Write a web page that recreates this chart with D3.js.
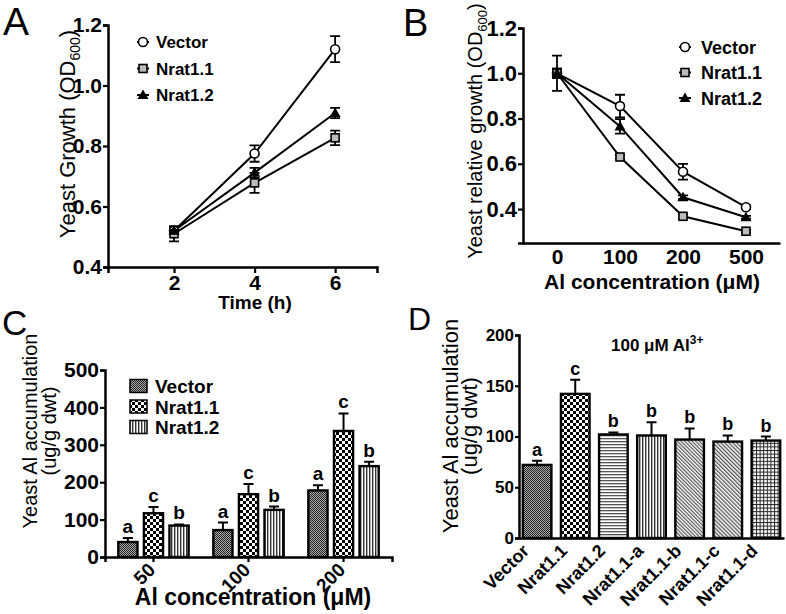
<!DOCTYPE html>
<html><head><meta charset="utf-8">
<script src="https://cdn.jsdelivr.net/npm/d3@7"></script>
<style>body{margin:0;background:#fff} text{font-family:"Liberation Sans",Arial,sans-serif}</style>
</head><body><svg id="c" width="786" height="614"></svg>
<script>
// ---------- DATA ----------
const seriesNames = ["Vector", "Nrat1.1", "Nrat1.2"];
// Panel A
const timeHours = [2, 4, 6];
const aVector = [0.52, 0.775, 1.12];
const aVectorErr = [0.01, 0.027, 0.043];
const aNrat11 = [0.51, 0.678, 0.827];
const aNrat11Err = [0.025, 0.033, 0.024];
const aNrat12 = [0.52, 0.712, 0.909];
const aNrat12Err = [0.01, 0.016, 0.017];
const aYTicks = [0.4, 0.6, 0.8, 1.0, 1.2];
const aXTicks = [2, 4, 6];
// Panel B
const alConcB = ["0", "100", "200", "500"];
const bVector = [1.0, 0.855, 0.565, 0.408];
const bVectorErr = [0.078, 0.05, 0.035, 0.008];
const bNrat11 = [1.0, 0.63, 0.368, 0.302];
const bNrat11Err = [0.02, 0.008, 0.01, 0.006];
const bNrat12 = [1.0, 0.765, 0.452, 0.364];
const bNrat12Err = [0.02, 0.032, 0.008, 0.006];
const bYTicks = [0.4, 0.6, 0.8, 1.0, 1.2];
// Panel C
const alConcC = ["50", "100", "200"];
const cVector = [40, 72, 178];
const cVectorErr = [11, 20, 14];
const cNrat11 = [117, 168, 337];
const cNrat11Err = [17, 27, 47];
const cNrat12 = [84, 126, 243];
const cNrat12Err = [3, 9, 12];
const cLetters = [["a", "a", "a"], ["c", "c", "c"], ["b", "b", "b"]];
const cYTicks = [0, 100, 200, 300, 400, 500];
// Panel D
const dLines = ["Vector", "Nrat1.1", "Nrat1.2", "Nrat1.1-a", "Nrat1.1-b", "Nrat1.1-c", "Nrat1.1-d"];
const dValues = [72, 142, 102, 101, 97, 95, 96];
const dErr = [4, 14, 2, 13, 11, 6, 4];
const dLetters = ["a", "c", "b", "b", "b", "b", "b"];
const dYTicks = [0, 50, 100, 150, 200];

// ---------- SETUP ----------
const svg = d3.select("#c");
const defs = svg.append("defs");
function pat(id, w, h, draw, transform) {
  const p = defs.append("pattern").attr("id", id).attr("patternUnits", "userSpaceOnUse")
    .attr("width", w).attr("height", h);
  if (transform) p.attr("patternTransform", transform);
  p.append("rect").attr("width", w).attr("height", h).attr("fill", "#fff");
  draw(p);
}
pat("pv", 2, 2, p => {
  p.select("rect").attr("fill", "#ababab");
  p.append("rect").attr("width", 1).attr("height", 1).attr("fill", "#222");
  p.append("rect").attr("x", 1).attr("y", 1).attr("width", 1).attr("height", 1).attr("fill", "#222");
});
pat("pchk", 6, 6, p => {
  p.append("rect").attr("width", 3).attr("height", 3).attr("fill", "#000");
  p.append("rect").attr("x", 3).attr("y", 3).attr("width", 3).attr("height", 3).attr("fill", "#000");
});
pat("pvl", 3, 3, p => p.append("rect").attr("width", 1.4).attr("height", 3).attr("fill", "#333"));
pat("phl", 3, 3, p => p.append("rect").attr("width", 3).attr("height", 1.3).attr("fill", "#555"));
pat("pd1", 2.6, 2.6, p => p.append("rect").attr("width", 1.2).attr("height", 2.6).attr("fill", "#555"), "rotate(-45)");
pat("pd2", 2.8, 2.8, p => p.append("rect").attr("width", 1.3).attr("height", 2.8).attr("fill", "#555"), "rotate(-45)");
pat("pgrid", 3.6, 3.6, p => {
  p.append("rect").attr("width", 1).attr("height", 3.6).attr("fill", "#222");
  p.append("rect").attr("width", 3.6).attr("height", 1).attr("fill", "#222");
});

function styleAxis(g, fs) {
  g.select(".domain").attr("stroke", "#000").attr("stroke-width", 2.5);
  g.selectAll(".tick line").attr("stroke", "#000").attr("stroke-width", 2.2);
  g.selectAll(".tick text").attr("font-size", fs).attr("font-weight", "bold").attr("fill", "#000")
    .attr("font-family", '"Liberation Sans", Arial, sans-serif');
}
function txt(x, y, s, fs, opt = {}) {
  const t = svg.append("text").attr("x", x).attr("y", y).attr("font-size", fs)
    .attr("text-anchor", opt.anchor || "start").attr("font-weight", opt.bold ? "bold" : "normal").text(s);
  if (opt.rot) t.attr("transform", `rotate(${opt.rot},${x},${y})`);
  return t;
}
function marker(g, type, x, y) {
  if (type === "circle") g.append("circle").attr("cx", x).attr("cy", y).attr("r", 4.5)
    .attr("fill", "#fff").attr("stroke", "#000").attr("stroke-width", 1.6);
  else if (type === "square") g.append("rect").attr("x", x - 4).attr("y", y - 4).attr("width", 8).attr("height", 8)
    .attr("fill", "#bbb").attr("stroke", "#000").attr("stroke-width", 1.6);
  else g.append("path").attr("d", `M${x},${y - 5.5}L${x + 5.5},${y + 4}L${x - 5.5},${y + 4}Z`).attr("fill", "#000");
}
const markerTypes = ["circle", "square", "triangle"];

// ---------- PANEL A ----------
{
  const x = d3.scaleLinear().domain([0.36, 7.04]).range([108, 377]);
  const y = d3.scaleLinear().domain([0.4, 1.2]).range([267, 25]);
  const ya = svg.append("g").attr("transform", "translate(108,0)")
    .call(d3.axisLeft(y).tickValues(aYTicks).tickFormat(d3.format(".1f")).tickSize(5).tickPadding(1));
  styleAxis(ya, 21);
  const xa = svg.append("g").attr("transform", "translate(0,267)")
    .call(d3.axisBottom(x).tickValues(aXTicks).tickFormat(d3.format("d")).tickSize(6).tickPadding(2));
  styleAxis(xa, 21);
  const data = [[aVector, aVectorErr], [aNrat11, aNrat11Err], [aNrat12, aNrat12Err]];
  const g = svg.append("g");
  const line = d3.line().x((d, i) => x(timeHours[i])).y(d => y(d));
  data.forEach(([v]) => g.append("path").attr("d", line(v)).attr("fill", "none").attr("stroke", "#000").attr("stroke-width", 2));
  data.forEach(([v, e]) => v.forEach((d, i) => {
    const cx = x(timeHours[i]);
    g.append("path").attr("d", `M${cx},${y(d - e[i])}V${y(d + e[i])}M${cx - 5},${y(d + e[i])}H${cx + 5}M${cx - 5},${y(d - e[i])}H${cx + 5}`)
      .attr("stroke", "#000").attr("stroke-width", 1.8).attr("fill", "none");
  }));
  data.forEach(([v], s) => v.forEach((d, i) => marker(g, markerTypes[s], x(timeHours[i]), y(d))));
  // legend
  seriesNames.forEach((n, s) => {
    const ly = 42 + s * 26.5;
    g.append("line").attr("x1", 137).attr("x2", 149).attr("y1", ly).attr("y2", ly).attr("stroke", "#000").attr("stroke-width", 2);
    marker(g, markerTypes[s], 143, ly);
    txt(156, ly + 6, n, 17, { bold: true });
  });
  txt(75, 134, "Yeast Growth (OD", 22, { anchor: "middle", rot: -90 })
    .call(t => { t.append("tspan").attr("font-size", 14).attr("dy", 5).text("600"); t.append("tspan").attr("dy", -5).text(")"); });
  txt(255, 309, "Time (h)", 19, { anchor: "middle", bold: true });
  txt(3, 35, "A", 39);
}

// ---------- PANEL B ----------
{
  const x = d3.scalePoint().domain(alConcB).range([523, 780]).padding(0.54);
  const y = d3.scaleLinear().domain([0.25, 1.2]).range([243, 28]);
  const ya = svg.append("g").attr("transform", "translate(523,0)")
    .call(d3.axisLeft(y).tickValues(bYTicks).tickFormat(d3.format(".1f")).tickSize(5).tickPadding(1));
  styleAxis(ya, 22);
  const xa = svg.append("g").attr("transform", "translate(0,243)")
    .call(d3.axisBottom(x).tickSize(0).tickPadding(6));
  styleAxis(xa, 21);
  const data = [[bVector, bVectorErr], [bNrat11, bNrat11Err], [bNrat12, bNrat12Err]];
  const g = svg.append("g");
  const line = d3.line().x((d, i) => x(alConcB[i])).y(d => y(d));
  data.forEach(([v]) => g.append("path").attr("d", line(v)).attr("fill", "none").attr("stroke", "#000").attr("stroke-width", 2));
  data.forEach(([v, e]) => v.forEach((d, i) => {
    const cx = x(alConcB[i]);
    g.append("path").attr("d", `M${cx},${y(d - e[i])}V${y(d + e[i])}M${cx - 5},${y(d + e[i])}H${cx + 5}M${cx - 5},${y(d - e[i])}H${cx + 5}`)
      .attr("stroke", "#000").attr("stroke-width", 1.8).attr("fill", "none");
  }));
  data.forEach(([v], s) => v.forEach((d, i) => marker(g, markerTypes[s], x(alConcB[i]), y(d))));
  seriesNames.forEach((n, s) => {
    const ly = 47 + s * 25.5;
    g.append("line").attr("x1", 679).attr("x2", 691).attr("y1", ly).attr("y2", ly).attr("stroke", "#000").attr("stroke-width", 2);
    marker(g, markerTypes[s], 685, ly);
    txt(701, ly + 6.5, n, 18, { bold: true });
  });
  txt(482, 131, "Yeast relative growth (OD", 20, { anchor: "middle", rot: -90 })
    .call(t => { t.append("tspan").attr("font-size", 13).attr("dy", 5).text("600"); t.append("tspan").attr("dy", -5).text(")"); });
  txt(652, 289, "Al concentration (\u03bcM)", 21, { anchor: "middle", bold: true });
  txt(403, 36, "B", 38);
}

// ---------- PANEL C ----------
{
  const x0 = d3.scaleBand().domain(alConcC).range([105, 392]).paddingInner(0.26).paddingOuter(0.14);
  const x1 = d3.scaleBand().domain(seriesNames).range([0, x0.bandwidth()]).paddingInner(0.25);
  const y = d3.scaleLinear().domain([0, 500]).range([557, 370]);
  const fills = ["pv", "pchk", "pvl"];
  const vals = [cVector, cNrat11, cNrat12];
  const errs = [cVectorErr, cNrat11Err, cNrat12Err];
  const g = svg.append("g");
  vals.forEach((v, s) => v.forEach((d, i) => {
    const bx = x0(alConcC[i]) + x1(seriesNames[s]);
    const bw = x1.bandwidth();
    const cx = bx + bw / 2;
    g.append("path").attr("d", `M${cx},${y(d)}V${y(d + errs[s][i])}M${cx - 5},${y(d + errs[s][i])}H${cx + 5}`)
      .attr("stroke", "#000").attr("stroke-width", 2).attr("fill", "none");
    g.append("rect").attr("x", bx).attr("y", y(d)).attr("width", bw).attr("height", y(0) - y(d))
      .attr("fill", `url(#${fills[s]})`).attr("stroke", "#000").attr("stroke-width", 2.4);
    txt(cx, y(d + errs[s][i]) - 5, cLetters[s][i], 19, { anchor: "middle", bold: true });
  }));
  const ya = svg.append("g").attr("transform", "translate(105,0)")
    .call(d3.axisLeft(y).tickValues(cYTicks).tickFormat(d3.format("d")).tickSize(5).tickPadding(1));
  styleAxis(ya, 21);
  const xa = svg.append("g").attr("transform", "translate(0,557)")
    .call(d3.axisBottom(x0).tickSize(5).tickFormat(""));
  styleAxis(xa, 20);
  alConcC.forEach(c => txt(x0(c) + x0.bandwidth() / 2 + 3, 571, c, 19, { anchor: "end", bold: true, rot: -45 }));
  // legend
  seriesNames.forEach((n, s) => {
    const ly = 386 + s * 20.5;
    g.append("rect").attr("x", 130).attr("y", ly - 6.5).attr("width", 17).attr("height", 13)
      .attr("fill", `url(#${fills[s]})`).attr("stroke", "#000").attr("stroke-width", 1.5);
    txt(155, ly + 7, n, 19, { bold: true });
  });
  txt(37, 431, "Yeast Al accumulation", 20, { anchor: "middle", rot: -90 });
  txt(56, 431, "(ug/g dwt)", 20, { anchor: "middle", rot: -90 });
  txt(253, 605, "Al concentration (\u03bcM)", 23, { anchor: "middle", bold: true });
  txt(2, 335, "C", 35);
}

// ---------- PANEL D ----------
{
  const x = d3.scaleBand().domain(dLines).range([519, 784]).paddingInner(0.25).paddingOuter(0.1);
  const y = d3.scaleLinear().domain([0, 200]).range([538, 335]);
  const fills = ["pv", "pchk", "phl", "pvl", "pd1", "pd2", "pgrid"];
  const g = svg.append("g");
  dLines.forEach((n, i) => {
    const bx = x(n), bw = x.bandwidth(), cx = bx + bw / 2, d = dValues[i], e = dErr[i];
    g.append("path").attr("d", `M${cx},${y(d)}V${y(d + e)}M${cx - 5},${y(d + e)}H${cx + 5}`)
      .attr("stroke", "#000").attr("stroke-width", 2).attr("fill", "none");
    g.append("rect").attr("x", bx).attr("y", y(d)).attr("width", bw).attr("height", y(0) - y(d))
      .attr("fill", `url(#${fills[i]})`).attr("stroke", "#000").attr("stroke-width", 2.4);
    txt(cx, y(d + e) - 5, dLetters[i], 18, { anchor: "middle", bold: true });
  });
  const ya = svg.append("g").attr("transform", "translate(519,0)")
    .call(d3.axisLeft(y).tickValues(dYTicks).tickFormat(d3.format("d")).tickSize(4).tickPadding(1));
  styleAxis(ya, 17);
  const xa = svg.append("g").attr("transform", "translate(0,538)")
    .call(d3.axisBottom(x).tickSize(0).tickFormat(""));
  styleAxis(xa, 17);
  dLines.forEach(n => txt(x(n) + x.bandwidth() / 2 - 7, 552, n, 18, { anchor: "end", bold: true, rot: -45 }));
  txt(458, 426, "Yeast Al accumulation", 22, { anchor: "middle", rot: -90 });
  txt(477, 426, "(ug/g dwt)", 22, { anchor: "middle", rot: -90 });
  txt(611, 351, "100 \u03bcM Al", 17, { bold: true })
    .call(t => t.append("tspan").attr("font-size", 12).attr("dy", -7).text("3+"));
  txt(408, 330, "D", 32);
}
</script></body></html>
